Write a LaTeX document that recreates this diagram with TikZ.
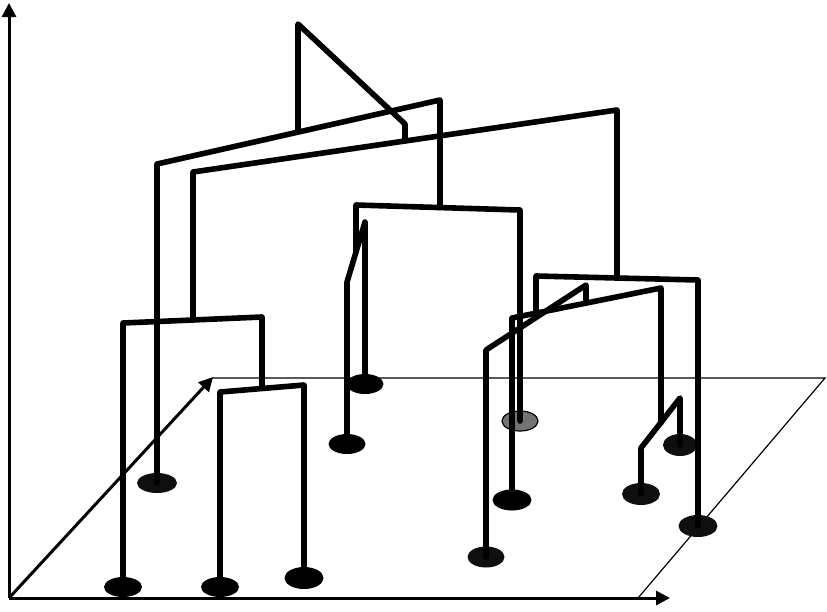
\documentclass[tikz,border=0pt]{standalone}
\usetikzlibrary{shapes.geometric,arrows.meta}
\begin{document}
\begin{tikzpicture}[x=1pt,y=-1pt,
  leaf/.style={ellipse,fill=black,draw=none,inner sep=0pt,minimum width=38pt,minimum height=20pt},
  dotleaf/.style={leaf,fill=black!94},
  paleleaf/.style={leaf,fill=black!55,draw=black,line width=1.2pt},
  branch/.style={line width=5.6pt,line join=round,line cap=round},
  axisline/.style={line width=3pt,-{Triangle[width=14pt,length=14pt]}},
  planeline/.style={line width=1.2pt}]
\useasboundingbox (0,0) rectangle (827,611);
% axes and plane
\coordinate (O) at (9,598);
\coordinate (Y) at (9,3);
\coordinate (X) at (670,598);
\coordinate (Z) at (213,377);
\coordinate (P1) at (212,378);
\coordinate (P2) at (825,378);
\coordinate (P3) at (638,598);
\draw[planeline] (P1) -- (P2) -- (P3);
\draw[axisline] (O) -- (Y);
\draw[axisline] (O) -- (X);
\draw[axisline] (O) -- (Z);
% leaves
\node[leaf] (l1) at (123,587) {};
\node[leaf] (l2) at (220,587) {};
\node[leaf,minimum width=39pt,minimum height=22pt] (l3) at (304,578) {};
\node[dotleaf,minimum width=40pt] (l4) at (157,483) {};
\node[leaf,minimum width=37pt] (l5) at (347,444) {};
\node[leaf,minimum width=37pt] (l6) at (365,384) {};
\node[paleleaf,minimum width=36pt] (l7) at (520,421) {};
\node[leaf,minimum width=39pt,minimum height=21pt] (l8) at (512,500) {};
\node[dotleaf,minimum width=37pt,minimum height=21pt] (l9) at (486,557) {};
\node[dotleaf,minimum width=38pt,minimum height=22pt] (l10) at (641,494) {};
\node[dotleaf,minimum width=34pt,minimum height=22pt] (l11) at (680,445) {};
\node[dotleaf,minimum width=39pt,minimum height=22pt] (l12) at (698,526) {};
% junction points
\coordinate (a1) at (123,323);
\coordinate (a2) at (262,317);
\coordinate (a3) at (262,388);
\coordinate (b1) at (220,392);
\coordinate (b2) at (304,385);
\coordinate (c1) at (157,164);
\coordinate (c2) at (440,100);
\coordinate (c3) at (440,207.5);
\coordinate (d0) at (193,320);
\coordinate (d1) at (193,172);
\coordinate (d2) at (617,110);
\coordinate (d3) at (617,278);
\coordinate (r0) at (298,132);
\coordinate (r1) at (298,24);
\coordinate (r2) at (405,124);
\coordinate (r3) at (405,141);
\coordinate (m0) at (356,252);
\coordinate (m1) at (356,205);
\coordinate (m2) at (520,210);
\coordinate (n1) at (347,282);
\coordinate (n2) at (365,222);
\coordinate (u0) at (536,313);
\coordinate (u1) at (536,276);
\coordinate (u2) at (698,280);
\coordinate (w1) at (512,318);
\coordinate (w2) at (661,288);
\coordinate (w3) at (661,423);
\coordinate (t1) at (641,448);
\coordinate (t2) at (680,398);
\coordinate (s1) at (486,350);
\coordinate (s2) at (586,285);
\coordinate (s3) at (586,303);
% branches
\draw[branch] (l1.center) -- (a1) -- (a2) -- (a3);
\draw[branch] (l2.center) -- (b1) -- (b2) -- (l3.center);
\draw[branch] (l4.center) -- (c1) -- (c2) -- (c3);
\draw[branch] (d0) -- (d1) -- (d2) -- (d3);
\draw[branch] (r0) -- (r1) -- (r2) -- (r3);
\draw[branch] (m0) -- (m1) -- (m2) -- (l7.center);
\draw[branch] (l5.center) -- (n1) -- (n2) -- (l6.center);
\draw[branch] (u0) -- (u1) -- (u2) -- (l12.center);
\draw[branch] (l8.center) -- (w1) -- (w2) -- (w3);
\draw[branch] (l10.center) -- (t1) -- (t2) -- (l11.center);
\draw[branch] (l9.center) -- (s1) -- (s2) -- (s3);
\end{tikzpicture}
\end{document}
